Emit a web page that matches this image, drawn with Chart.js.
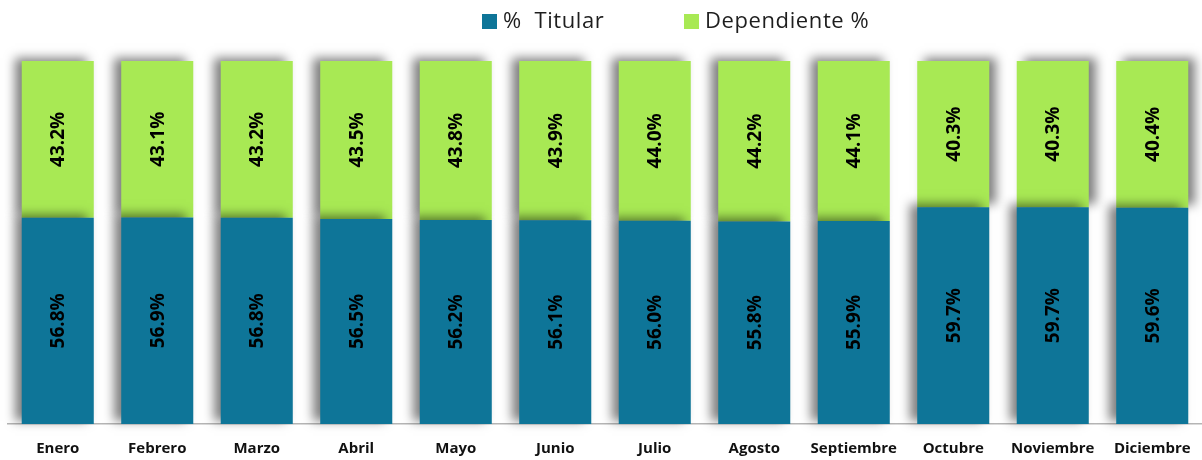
<!DOCTYPE html>
<html>
<head>
<meta charset="utf-8">
<script src="https://cdn.jsdelivr.net/npm/chart.js@4/dist/chart.umd.min.js"></script>
<style>
  html, body { margin: 0; padding: 0; background: #fff; }
  #wrap { position: relative; width: 1202px; height: 460px; }
  .leg { position: absolute; top: 4px; font: 22px "Open Sans", sans-serif; letter-spacing: 0.6px; color: #1e1e1e; white-space: pre; line-height: 30px; }
  .leg span { display: inline-block; width: 15px; height: 15px; vertical-align: -1px; margin-right: 6px; }
</style>
</head>
<body>
<div id="wrap">
  <canvas id="chart" width="1202" height="460"></canvas>
  <div class="leg" style="left:482px"><span style="background:#0e7598"></span>%  Titular</div>
  <div class="leg" style="left:684px"><span style="background:#a8e954"></span>Dependiente %</div>
</div>
<script>
const months = ["Enero", "Febrero", "Marzo", "Abril", "Mayo", "Junio", "Julio", "Agosto", "Septiembre", "Octubre", "Noviembre", "Diciembre"];
const titular = [56.8, 56.9, 56.8, 56.5, 56.2, 56.1, 56.0, 55.8, 55.9, 59.7, 59.7, 59.6];
const dependiente = [43.2, 43.1, 43.2, 43.5, 43.8, 43.9, 44.0, 44.2, 44.1, 40.3, 40.3, 40.4];

// bars with a soft drop shadow (last three green segments throw it to the right)
const barShadow = {
  id: "barShadow",
  beforeDatasetDraw(chart, args) {
    const ctx = chart.ctx;
    args.meta.data.forEach((bar, i) => {
      ctx.save();
      ctx.shadowColor = "rgba(0,0,0,0.5)";
      ctx.shadowBlur = 10;
      ctx.shadowOffsetX = (args.index === 1 && i >= 9) ? 7 : -7;
      ctx.shadowOffsetY = -3;
      bar.draw(ctx);
      ctx.restore();
    });
    return false;
  }
};

const barLabels = {
  id: "barLabels",
  afterDatasetsDraw(chart) {
    const ctx = chart.ctx;
    ctx.save();
    ctx.font = "bold 19px 'Open Sans', sans-serif";
    ctx.fillStyle = "#000";
    ctx.textAlign = "center";
    ctx.textBaseline = "middle";
    chart.data.datasets.forEach((ds, d) => {
      chart.getDatasetMeta(d).data.forEach((bar, i) => {
        const p = bar.getCenterPoint();
        ctx.save();
        ctx.translate(p.x, p.y);
        ctx.rotate(-Math.PI / 2);
        ctx.fillText(ds.data[i].toFixed(1) + "%", 0, 1);
        ctx.restore();
      });
    });
    ctx.restore();
  }
};

new Chart(document.getElementById("chart"), {
  type: "bar",
  data: {
    labels: months,
    datasets: [
      { label: "%  Titular", data: titular, backgroundColor: "#0e7598", clip: false },
      { label: "Dependiente %", data: dependiente, backgroundColor: "#a8e954", clip: false }
    ]
  },
  options: {
    responsive: false,
    animation: false,
    layout: { padding: { left: 8, right: 0, top: 61, bottom: 0 } },
    datasets: { bar: { barPercentage: 0.724, categoryPercentage: 1 } },
    plugins: { legend: { display: false }, tooltip: { enabled: false } },
    scales: {
      x: {
        stacked: true,
        afterFit(scale) { scale.height = 36; },
        grid: { display: false },
        border: { display: true, color: "#b5b5b5", width: 1.5 },
        ticks: { color: "#111", padding: 8, font: { family: "'Open Sans', sans-serif", size: 15, weight: "bold" }, maxRotation: 0, autoSkip: false }
      },
      y: { stacked: true, display: false, min: 0, max: 100 }
    }
  },
  plugins: [barShadow, barLabels]
});
</script>
</body>
</html>
